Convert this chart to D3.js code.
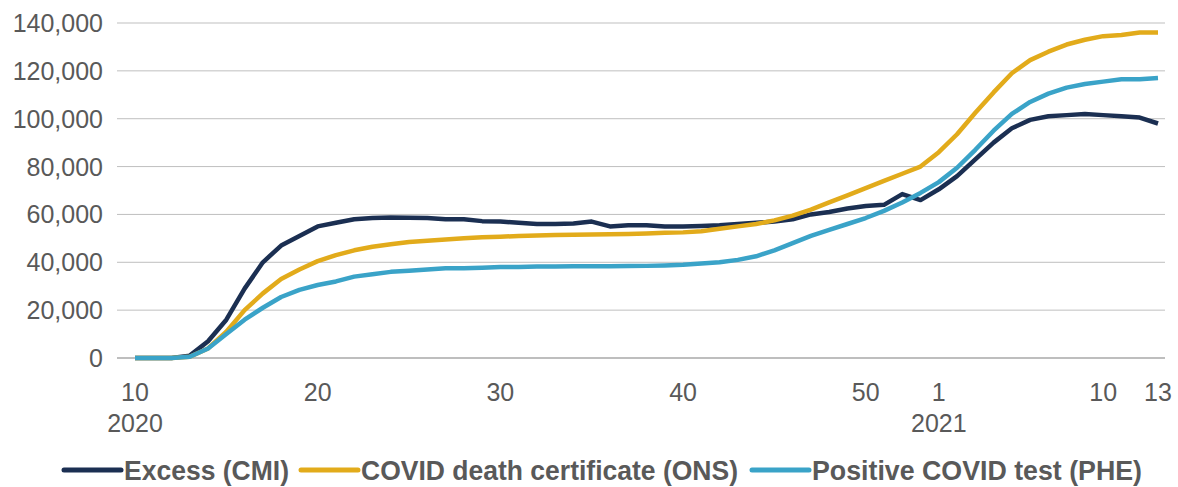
<!DOCTYPE html>
<html>
<head>
<meta charset="utf-8">
<script src="https://cdn.jsdelivr.net/npm/d3@7"></script>
<style>
  body { margin: 0; background: #fff; font-family: "Liberation Sans", Arial, sans-serif; }
</style>
</head>
<body>
<svg id="chart" width="1178" height="487"></svg>
<script>
// weeks: 2020 w10..w53, then 2021 w1..w13
const weeks = [];
for (let w = 10; w <= 53; w++) weeks.push({ year: 2020, week: w });
for (let w = 1; w <= 13; w++) weeks.push({ year: 2021, week: w });

const excessCMI = [0, 0, 0, 1000, 7000, 16000, 29000, 40000, 47000, 51000,
  55000, 56500, 58000, 58500, 58700, 58600, 58500, 58000, 58000, 57200,
  57000, 56500, 56000, 56000, 56200, 57000, 55000, 55500, 55500, 55000,
  55000, 55200, 55500, 56000, 56500, 57000, 58000, 60000, 61000, 62500,
  63500, 64000, 68500, 66000,
  70500, 76000, 83000, 90000, 96000, 99500, 101000, 101500, 102000, 101500, 101000, 100500, 98000];

const deathCertONS = [0, 0, 0, 500, 4000, 11000, 20000, 27000, 33000, 37000,
  40500, 43000, 45000, 46500, 47500, 48500, 49000, 49500, 50000, 50500,
  50700, 51000, 51200, 51400, 51500, 51600, 51700, 51800, 52000, 52300,
  52500, 53000, 54000, 55000, 56000, 57500, 59500, 62000, 65000, 68000,
  71000, 74000, 77000, 80000,
  86000, 93500, 102500, 111000, 119000, 124500, 128000, 131000, 133000, 134500, 135000, 136000, 136000];

const positiveTestPHE = [0, 0, 0, 500, 4000, 10000, 16000, 21000, 25500, 28500,
  30500, 32000, 34000, 35000, 36000, 36500, 37000, 37500, 37500, 37700,
  38000, 38000, 38200, 38200, 38300, 38300, 38300, 38400, 38500, 38700,
  39000, 39500, 40000, 41000, 42500, 45000, 48000, 51000, 53500, 56000,
  58500, 61500, 65000, 69000,
  73500, 79500, 87000, 95000, 102000, 107000, 110500, 113000, 114500, 115500, 116500, 116500, 117000];

const yTicks = [0, 20000, 40000, 60000, 80000, 100000, 120000, 140000];
const xTickLabels = [
  { year: 2020, week: 10, sub: "2020" }, { year: 2020, week: 20 }, { year: 2020, week: 30 },
  { year: 2020, week: 40 }, { year: 2020, week: 50 }, { year: 2021, week: 1, sub: "2021" },
  { year: 2021, week: 10 }, { year: 2021, week: 13 }
];

const series = [
  { name: "Excess (CMI)", values: excessCMI, color: "#1b2f52" },
  { name: "COVID death certificate (ONS)", values: deathCertONS, color: "#e2ab1b" },
  { name: "Positive COVID test (PHE)", values: positiveTestPHE, color: "#3aa3c8" }
];

const svg = d3.select("#chart");
const x = d3.scaleLinear().domain([0, weeks.length - 1]).range([135, 1158]);
const y = d3.scaleLinear().domain([0, 140000]).range([358, 23]);
const idx = (yr, wk) => weeks.findIndex(d => d.year === yr && d.week === wk);

// gridlines
svg.append("g").selectAll("line").data(yTicks.slice(1)).join("line")
  .attr("x1", 117).attr("x2", 1165)
  .attr("y1", d => y(d)).attr("y2", d => y(d))
  .attr("stroke", "#bfbfbf").attr("stroke-width", 1);

// y labels
svg.append("g").selectAll("text").data(yTicks).join("text")
  .attr("x", 103).attr("y", d => y(d)).attr("dy", "0.36em")
  .attr("text-anchor", "end").attr("font-size", 25).attr("fill", "#595959")
  .text(d => d3.format(",")(d));

// x axis
svg.append("line").attr("x1", 117).attr("x2", 1165).attr("y1", 358).attr("y2", 358)
  .attr("stroke", "#7f7f7f").attr("stroke-width", 1.2);

const xl = svg.append("g").selectAll("g").data(xTickLabels).join("g")
  .attr("transform", d => `translate(${x(idx(d.year, d.week))},0)`);
xl.append("text").attr("y", 401).attr("text-anchor", "middle")
  .attr("font-size", 25).attr("fill", "#595959").text(d => d.week);
xl.filter(d => d.sub).append("text").attr("y", 432).attr("text-anchor", "middle")
  .attr("font-size", 25).attr("fill", "#595959").text(d => d.sub);

// lines
const line = d3.line().x((d, i) => x(i)).y(d => y(d));
svg.append("g").selectAll("path").data(series).join("path")
  .attr("d", d => line(d.values)).attr("fill", "none")
  .attr("stroke", d => d.color).attr("stroke-width", 4.5)
  .attr("stroke-linejoin", "round");

// legend (text is condensed in the original, so fit widths)
const legendX = [64, 301, 752];
const legendW = [165, 377, 330];
const lg = svg.append("g").selectAll("g").data(series).join("g")
  .attr("transform", (d, i) => `translate(${legendX[i]},470)`);
lg.append("line").attr("x1", 0).attr("x2", 57).attr("stroke", d => d.color).attr("stroke-width", 5)
  .attr("stroke-linecap", "round");
lg.append("text").attr("x", 60).attr("dy", "0.36em").attr("font-size", 27)
  .attr("font-weight", "bold").attr("fill", "#595959")
  .attr("textLength", (d, i) => legendW[i]).attr("lengthAdjust", "spacingAndGlyphs")
  .text(d => d.name);
</script>
</body>
</html>
